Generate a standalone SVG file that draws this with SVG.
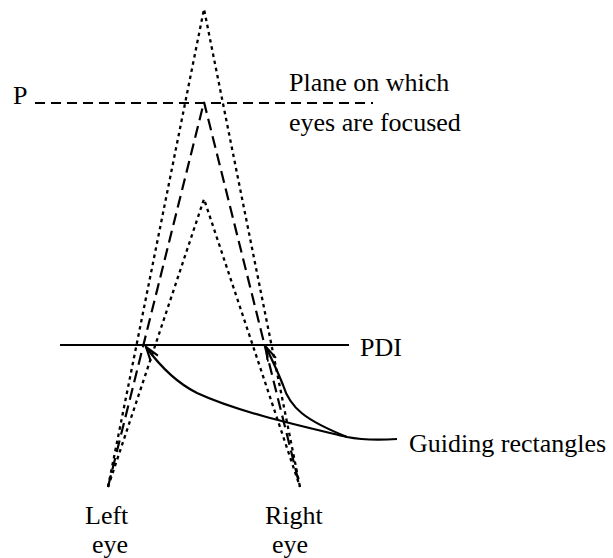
<svg xmlns="http://www.w3.org/2000/svg" width="613" height="558" viewBox="0 0 613 558">
<style>
text{font-family:"Liberation Serif","Times New Roman",serif;font-size:26px;fill:#000}
.dot{fill:none;stroke:#000;stroke-width:2.3;stroke-dasharray:3.5 3.8}
.dash{fill:none;stroke:#000;stroke-width:2.2;stroke-dasharray:12 6}
.pl{fill:none;stroke:#000;stroke-width:2.2;stroke-dasharray:10 6}
.solid{fill:none;stroke:#000;stroke-width:2.2}
</style>
<defs>
<marker id="arr" markerUnits="userSpaceOnUse" markerWidth="18" markerHeight="12" refX="15" refY="5" orient="auto">
<path d="M1,0.5 L15,5 L1,9.5" fill="none" stroke="#000" stroke-width="2.2"/>
</marker>
</defs>
<g id="lines">
<path class="dot" d="M108,487 L204,9 L300,487"/>
<path class="dot" d="M108,487 L204,199 L300,487"/>
<path class="dash" d="M108,487 L204,102 L300,487"/>
<line class="pl" x1="35" y1="103" x2="373" y2="103"/>
<line class="solid" x1="60" y1="345" x2="349" y2="345"/>
</g>
<g id="connectors">
<path class="solid" d="M397,439 C380,440 362,440 347,437 C310,428 240,413 197,393 C173,381 157,362 146,347" marker-end="url(#arr)"/>
<path class="solid" d="M347,437 C305,420 290,408 283,385 C277,370 271,358 266,347" marker-end="url(#arr)"/>
</g>
<g id="label-P"><text x="13" y="104">P</text></g>
<g id="label-plane"><text x="289" y="91">Plane on which</text><text x="289" y="131">eyes are focused</text></g>
<g id="label-PDI"><text x="360" y="356">PDI</text></g>
<g id="label-guiding"><text x="409" y="452">Guiding rectangles</text></g>
<g id="label-left"><text x="85" y="524">Left</text><text x="92" y="553">eye</text></g>
<g id="label-right"><text x="265" y="524">Right</text><text x="272" y="553">eye</text></g>
</svg>
